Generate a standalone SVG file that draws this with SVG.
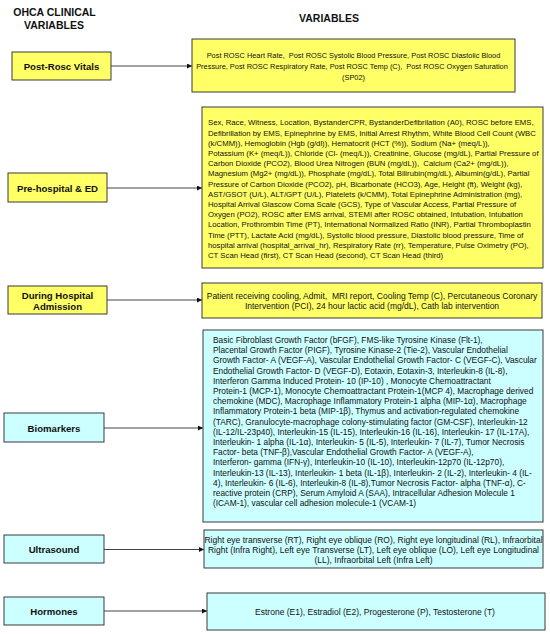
<svg xmlns="http://www.w3.org/2000/svg" width="550" height="634" viewBox="0 0 550 634">
<style>
  .bg{fill:#ffffff}
  .y{fill:#ffff66;stroke:#3a3a3a;stroke-width:1}
  .c{fill:#ccffff;stroke:#3a3a3a;stroke-width:1}
  .hd{font-family:"Liberation Sans",Arial,sans-serif;font-weight:bold;font-size:10.5px;fill:#111;text-anchor:middle}
  .lb{font-family:"Liberation Sans",Arial,sans-serif;font-weight:bold;font-size:9.6px;fill:#111;text-anchor:middle}
  .tx{font-family:"Liberation Sans",Arial,sans-serif;font-size:7.4px;fill:#111}
  .t2{font-size:7.75px}
  .t3{font-size:8.5px}
  .t4{font-size:8.35px}
  .mid{text-anchor:middle}
  .cn{stroke:#444;stroke-width:1;fill:none;marker-end:url(#ah)}
</style>
<defs>
  <marker id="ah" viewBox="0 0 10 10" refX="10" refY="5" markerWidth="5" markerHeight="5" orient="auto" markerUnits="userSpaceOnUse">
    <path d="M0,0 L10,5 L0,10 z" fill="#111"/>
  </marker>
</defs>
<rect class="bg" x="0" y="0" width="550" height="634"/>

<g id="headers">
  <text class="hd" x="54.5" y="15.6">OHCA CLINICAL</text>
  <text class="hd" x="54" y="28.8">VARIABLES</text>
  <text class="hd" x="329" y="21.8">VARIABLES</text>
</g>

<g id="connectors">
  <line class="cn" x1="111" y1="66" x2="192" y2="66"/>
  <line class="cn" x1="107" y1="188" x2="202" y2="188"/>
  <line class="cn" x1="107" y1="300" x2="202" y2="300"/>
  <line class="cn" x1="104" y1="428" x2="203" y2="428"/>
  <line class="cn" x1="104" y1="549.5" x2="204" y2="549.5"/>
  <line class="cn" x1="104" y1="611" x2="207" y2="611"/>
</g>

<g id="post-rosc-vitals">
  <rect class="y" x="12" y="52" width="99" height="28"/>
  <text class="lb" x="61.5" y="69.5">Post-Rosc Vitals</text>
</g>
<g id="post-rosc-variables">
  <rect class="y" x="192" y="39" width="323" height="53"/>
  <text class="tx mid" x="353.5" y="57.6" xml:space="preserve">Post ROSC Heart Rate,  Post ROSC Systolic Blood Pressure, Post ROSC Diastolic Blood</text>
  <text class="tx mid" x="352" y="68.6" xml:space="preserve">Pressure, Post ROSC Respiratory Rate, Post ROSC Temp (C),  Post ROSC Oxygen Saturation</text>
  <text class="tx mid" x="353.5" y="79.6">(SP02)</text>
</g>

<g id="pre-hospital-ed">
  <rect class="y" x="8" y="173" width="99" height="29"/>
  <text class="lb" x="57.5" y="191.5">Pre-hospital &amp; ED</text>
</g>
<g id="pre-hospital-variables">
  <rect class="y" x="202" y="107" width="341" height="161"/>
  <g class="tx t2">
  <text x="208" y="125.3">Sex, Race, Witness, Location, BystanderCPR, BystanderDefibrilation (A0), ROSC before EMS,</text>
  <text x="208" y="135.5">Defibrillation by EMS, Epinephrine by EMS, Initial Arrest Rhythm, White Blood Cell Count (WBC</text>
  <text x="208" y="145.7">(k/CMM)), Hemoglobin (Hgb (g/dl)), Hematocrit (HCT (%)), Sodium (Na+ (meq/L)),</text>
  <text x="208" y="155.9">Potassium (K+ (meq/L)), Chloride (Cl- (meq/L)), Creatinine, Glucose (mg/dL), Partial Pressure of</text>
  <text x="208" y="166.1" xml:space="preserve">Carbon Dioxide (PCO2), Blood Urea Nitrogen (BUN (mg/dL)),  Calcium (Ca2+ (mg/dL)),</text>
  <text x="208" y="176.3">Magnesium (Mg2+ (mg/dL)), Phosphate (mg/dL), Total Bilirubin(mg/dL), Albumin(g/dL), Partial</text>
  <text x="208" y="186.5">Pressure of Carbon Dioxide (PCO2), pH, Bicarbonate (HCO3), Age, Height (ft), Weight (kg),</text>
  <text x="208" y="196.7">AST/GSOT (U/L), ALT/GPT (U/L), Platelets (k/CMM), Total Epinephrine Administration (mg),</text>
  <text x="208" y="206.9">Hospital Arrival Glascow Coma Scale (GCS), Type of Vascular Access, Partial Pressure of</text>
  <text x="208" y="217.1">Oxygen (PO2), ROSC after EMS arrival, STEMI after ROSC obtained, Intubation, Intubation</text>
  <text x="208" y="227.3">Location, Prothrombin Time (PT), International Normalized Ratio (INR), Partial Thromboplastin</text>
  <text x="208" y="237.5">Time (PTT), Lactate Acid (mg/dL), Systolic blood pressure, Diastolic blood pressure, Time of</text>
  <text x="208" y="247.7">hospital arrival (hospital_arrival_hr), Respiratory Rate (rr), Temperature, Pulse Oximetry (PO),</text>
  <text x="208" y="257.9">CT Scan Head (first), CT Scan Head (second), CT Scan Head (third)</text>
  </g>
</g>

<g id="during-hospital-admission">
  <rect class="y" x="8" y="286" width="99" height="28"/>
  <text class="lb" x="57.5" y="298.5">During Hospital</text>
  <text class="lb" x="57.5" y="310">Admission</text>
</g>
<g id="during-hospital-variables">
  <rect class="y" x="202" y="283" width="340" height="35"/>
  <text class="tx t3 mid" x="372" y="298.6" xml:space="preserve">Patient receiving cooling, Admit,  MRI report, Cooling Temp (C), Percutaneous Coronary</text>
  <text class="tx t3 mid" x="372" y="308.8">Intervention (PCI), 24 hour lactic acid (mg/dL), Cath lab intervention</text>
</g>

<g id="biomarkers">
  <rect class="c" x="4" y="413" width="100" height="29"/>
  <text class="lb" x="54" y="431.5">Biomarkers</text>
</g>
<g id="biomarkers-variables">
  <rect class="c" x="203" y="330" width="340" height="192"/>
  <g class="tx t4">
  <text x="213" y="343">Basic Fibroblast Growth Factor (bFGF), FMS-like Tyrosine Kinase (Flt-1),</text>
  <text x="213" y="353.2">Placental Growth Factor (PIGF), Tyrosine Kinase-2 (Tie-2), Vascular Endothelial</text>
  <text x="213" y="363.4">Growth Factor- A (VEGF-A), Vascular Endothelial Growth Factor- C (VEGF-C), Vascular</text>
  <text x="213" y="373.6">Endothelial Growth Factor- D (VEGF-D), Eotaxin, Eotaxin-3, Interleukin-8 (IL-8),</text>
  <text x="213" y="383.8">Interferon Gamma Induced Protein- 10 (IP-10) , Monocyte Chemoattractant</text>
  <text x="213" y="394">Protein-1 (MCP-1), Monocyte Chemoattractant Protein-1(MCP 4), Macrophage derived</text>
  <text x="213" y="404.2">chemokine (MDC), Macrophage Inflammatory Protein-1 alpha (MIP-1α), Macrophage</text>
  <text x="213" y="414.4">Inflammatory Protein-1 beta (MIP-1β), Thymus and activation-regulated chemokine</text>
  <text x="213" y="424.6">(TARC), Granulocyte-macrophage colony-stimulating factor (GM-CSF), Interleukin-12</text>
  <text x="213" y="434.8">(IL-12/IL-23p40), Interleukin-15 (IL-15), Interleukin-16 (IL-16), Interleukin- 17 (IL-17A),</text>
  <text x="213" y="445">Interleukin- 1 alpha (IL-1α), Interleukin- 5 (IL-5), Interleukin- 7 (IL-7), Tumor Necrosis</text>
  <text x="213" y="455.2">Factor- beta (TNF-β),Vascular Endothelial Growth Factor- A (VEGF-A),</text>
  <text x="213" y="465.4">Interferon- gamma (IFN-γ), Interleukin-10 (IL-10), Interleukin-12p70 (IL-12p70),</text>
  <text x="213" y="475.6">Interleukin-13 (IL-13), Interleukin- 1 beta (IL-1β), Interleukin- 2 (IL-2), Interleukin- 4 (IL-</text>
  <text x="213" y="485.8">4), Interleukin- 6 (IL-6), Interleukin-8 (IL-8),Tumor Necrosis Factor- alpha (TNF-α), C-</text>
  <text x="213" y="496">reactive protein (CRP), Serum Amyloid A (SAA), Intracellular Adhesion Molecule 1</text>
  <text x="213" y="506.2">(ICAM-1), vascular cell adhesion molecule-1 (VCAM-1)</text>
  </g>
</g>

<g id="ultrasound">
  <rect class="c" x="4" y="535" width="100" height="28"/>
  <text class="lb" x="54" y="552.8">Ultrasound</text>
</g>
<g id="ultrasound-variables">
  <rect class="c" x="204" y="530" width="339" height="38"/>
  <g class="tx t3 mid">
  <text x="373.5" y="543">Right eye transverse (RT), Right eye oblique (RO), Right eye longitudinal (RL), Infraorbital</text>
  <text x="373.5" y="553.2">Right (Infra Right), Left eye Transverse (LT), Left eye oblique (LO), Left eye Longitudinal</text>
  <text x="373.5" y="563.4">(LL), Infraorbital Left (Infra Left)</text>
  </g>
</g>

<g id="hormones">
  <rect class="c" x="4" y="597" width="100" height="28"/>
  <text class="lb" x="54" y="614.5">Hormones</text>
</g>
<g id="hormones-variables">
  <rect class="c" x="207" y="593" width="338" height="37"/>
  <text class="tx t3 mid" x="375" y="614.8">Estrone (E1), Estradiol (E2), Progesterone (P), Testosterone (T)</text>
</g>
</svg>
